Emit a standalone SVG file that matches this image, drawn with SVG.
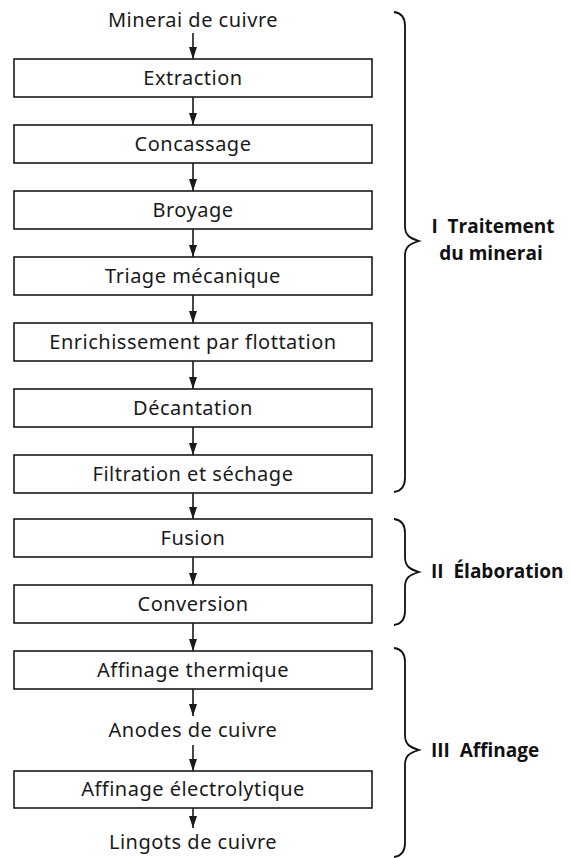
<svg xmlns="http://www.w3.org/2000/svg" width="570" height="858" viewBox="0 0 570 858">
  <defs>
    <marker id="head" viewBox="0 0 12 8" refX="12" refY="4" markerWidth="12" markerHeight="8" markerUnits="userSpaceOnUse" orient="auto">
      <path d="M0,0 L12,4 L0,8 Z" fill="#1a1a1a"/>
    </marker>
  </defs>
  <style>
    .box { fill: #ffffff; stroke: #1a1a1a; stroke-width: 1.6; }
    .lbl { font-family: "Noto Sans", "Open Sans", sans-serif; font-size: 20px; letter-spacing: 0.5px; fill: #1a1a1a; text-anchor: middle; }
    .grp { font-family: "Open Sans", "Noto Sans", sans-serif; font-size: 19px; font-weight: bold; fill: #111111; }
    .mid { text-anchor: middle; }
    .edge { stroke: #1a1a1a; stroke-width: 1.6; fill: none; marker-end: url(#head); }
    .brace { stroke: #111111; stroke-width: 1.8; fill: none; }
  </style>

  <!-- connectors -->
  <g id="connectors">
    <line class="edge" x1="193" y1="33" x2="193" y2="59"/>
    <line class="edge" x1="193" y1="97" x2="193" y2="125"/>
    <line class="edge" x1="193" y1="163" x2="193" y2="191"/>
    <line class="edge" x1="193" y1="229" x2="193" y2="257"/>
    <line class="edge" x1="193" y1="295" x2="193" y2="323"/>
    <line class="edge" x1="193" y1="361" x2="193" y2="389"/>
    <line class="edge" x1="193" y1="427" x2="193" y2="455"/>
    <line class="edge" x1="193" y1="493" x2="193" y2="519"/>
    <line class="edge" x1="193" y1="557" x2="193" y2="585"/>
    <line class="edge" x1="193" y1="623" x2="193" y2="651"/>
    <line class="edge" x1="193" y1="689" x2="193" y2="716"/>
    <line class="edge" x1="193" y1="745" x2="193" y2="771"/>
    <line class="edge" x1="193" y1="808" x2="193" y2="828"/>
  </g>

  <!-- process steps -->
  <g id="minerai"><text class="lbl" x="193" y="27">Minerai de cuivre</text></g>
  <g id="extraction"><rect class="box" x="14" y="59" width="358" height="38"/><text class="lbl" x="193" y="85">Extraction</text></g>
  <g id="concassage"><rect class="box" x="14" y="125" width="358" height="38"/><text class="lbl" x="193" y="151">Concassage</text></g>
  <g id="broyage"><rect class="box" x="14" y="191" width="358" height="38"/><text class="lbl" x="193" y="217">Broyage</text></g>
  <g id="triage"><rect class="box" x="14" y="257" width="358" height="38"/><text class="lbl" x="193" y="283">Triage mécanique</text></g>
  <g id="enrichissement"><rect class="box" x="14" y="323" width="358" height="38"/><text class="lbl" x="193" y="349">Enrichissement par flottation</text></g>
  <g id="decantation"><rect class="box" x="14" y="389" width="358" height="38"/><text class="lbl" x="193" y="415">Décantation</text></g>
  <g id="filtration"><rect class="box" x="14" y="455" width="358" height="38"/><text class="lbl" x="193" y="481">Filtration et séchage</text></g>
  <g id="fusion"><rect class="box" x="14" y="519" width="358" height="38"/><text class="lbl" x="193" y="545">Fusion</text></g>
  <g id="conversion"><rect class="box" x="14" y="585" width="358" height="38"/><text class="lbl" x="193" y="611">Conversion</text></g>
  <g id="affinage-thermique"><rect class="box" x="14" y="651" width="358" height="38"/><text class="lbl" x="193" y="677">Affinage thermique</text></g>
  <g id="anodes"><text class="lbl" x="193" y="737">Anodes de cuivre</text></g>
  <g id="affinage-electrolytique"><rect class="box" x="14" y="771" width="358" height="37"/><text class="lbl" x="193" y="796">Affinage électrolytique</text></g>
  <g id="lingots"><text class="lbl" x="193" y="849">Lingots de cuivre</text></g>

  <!-- stage braces -->
  <g id="stage-1">
    <path class="brace" d="M394,12 C402,13 405,18 405,26 L405,226 C405,235 409,238 419,241 C409,244 405,247 405,256 L405,478 C405,486 402,491 394,492"/>
    <text class="grp mid" x="493" y="233" xml:space="preserve">I  Traitement</text>
    <text class="grp mid" x="491" y="260">du minerai</text>
  </g>
  <g id="stage-2">
    <path class="brace" d="M394,519 C402,520 405,525 405,533 L405,557 C405,566 409,569 419,572 C409,575 405,578 405,587 L405,611 C405,619 402,624 394,625"/>
    <text class="grp" x="431" y="578" xml:space="preserve">II  Élaboration</text>
  </g>
  <g id="stage-3">
    <path class="brace" d="M394,648 C402,649 405,654 405,662 L405,735 C405,744 409,747 419,750 C409,753 405,756 405,765 L405,843 C405,851 402,856 394,857"/>
    <text class="grp" x="431" y="757" xml:space="preserve">III  Affinage</text>
  </g>
</svg>
